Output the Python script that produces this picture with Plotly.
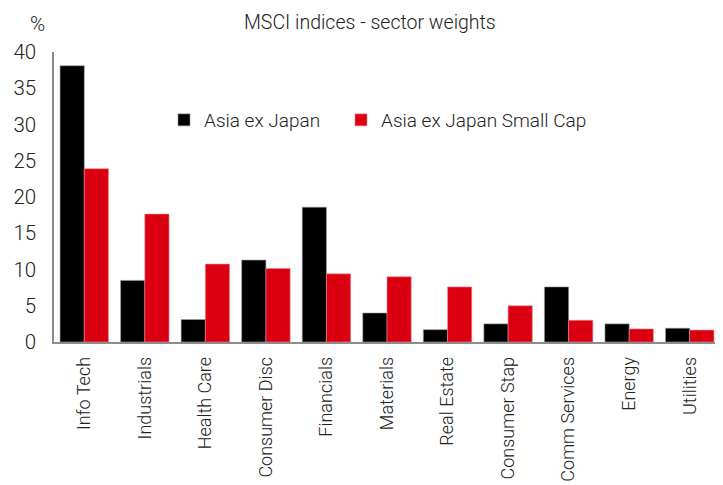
import plotly.graph_objects as go

categories = ["Info Tech", "Industrials", "Health Care", "Consumer Disc", "Financials",
              "Materials", "Real Estate", "Consumer Stap", "Comm Services", "Energy", "Utilities"]
asia_ex_japan = [38.1, 8.5, 3.1, 11.3, 18.6, 4.0, 1.7, 2.5, 7.6, 2.5, 1.9]
asia_ex_japan_small = [23.9, 17.65, 10.75, 10.15, 9.4, 9.0, 7.6, 5.0, 3.0, 1.8, 1.65]
y_ticks = [0, 5, 10, 15, 20, 25, 30, 35, 40]

FONT = "Roboto"
TXT = "#222222"

# page body has an 8px default margin; compensate so plot area sits at page px 54..720 x 52..342
OFF = 8
W, H = 723 - OFF, 485 - OFF
ML, MR, MT, MB = 54 - OFF, 3, 52 - OFF, 143
pw = W - ML - MR
ph = H - MT - MB


def px_x(page_x):
    return (page_x - 54) / pw


def px_y(page_y):
    return (342 - page_y) / ph


leg_font = dict(size=19, family=FONT, color=TXT, weight=300)

fig = go.Figure()
fig.add_trace(go.Bar(x=categories, y=asia_ex_japan, name="Asia ex Japan", legend="legend",
                     marker=dict(color="#000000", line=dict(color="#9a9a9a", width=0.6))))
fig.add_trace(go.Bar(x=categories, y=asia_ex_japan_small, name="Asia ex Japan Small Cap",
                     legend="legend2",
                     marker=dict(color="#DB0011", line=dict(color="#f08a92", width=0.6))))

fig.update_layout(
    width=W, height=H,
    margin=dict(l=ML, r=MR, t=MT, b=MB, autoexpand=False),
    paper_bgcolor="white", plot_bgcolor="white",
    barmode="group", bargap=0.2, bargroupgap=0,
    font=dict(family=FONT, color=TXT, size=19, weight=300),
    showlegend=True,
    legend=dict(orientation="h", x=px_x(164), y=px_y(120), xanchor="left", yanchor="middle",
                font=leg_font, bgcolor="rgba(0,0,0,0)", itemwidth=30),
    legend2=dict(orientation="h", x=px_x(341), y=px_y(120), xanchor="left", yanchor="middle",
                 font=leg_font, bgcolor="rgba(0,0,0,0)", itemwidth=30),
    xaxis=dict(showline=True, linecolor="#8c8c8c", linewidth=1.5, ticks="",
               tickangle=-90, ticklabelstandoff=6,
               tickfont=dict(size=18, family=FONT, color=TXT, weight=300),
               showgrid=False, automargin=False),
    yaxis=dict(range=[0, 40], tickvals=y_ticks, ticktext=[str(v) for v in y_ticks],
               showline=True, linecolor="#8c8c8c", linewidth=1.5, ticks="",
               showgrid=False, zeroline=False, ticklabelstandoff=12, automargin=False,
               tickfont=dict(size=20.5, family=FONT, color=TXT, weight=300)),
    annotations=[
        dict(text="MSCI indices - sector weights", x=px_x(370), y=px_y(23),
             xref="paper", yref="paper", xanchor="center", yanchor="middle", showarrow=False,
             font=dict(size=19.5, family=FONT, color=TXT, weight=300)),
        dict(text="%", x=px_x(37), y=px_y(24), xref="paper", yref="paper",
             xanchor="center", yanchor="middle", showarrow=False,
             font=dict(size=20.5, family=FONT, color=TXT, weight=300)),
    ],
)

fig.write_html("out.html")
